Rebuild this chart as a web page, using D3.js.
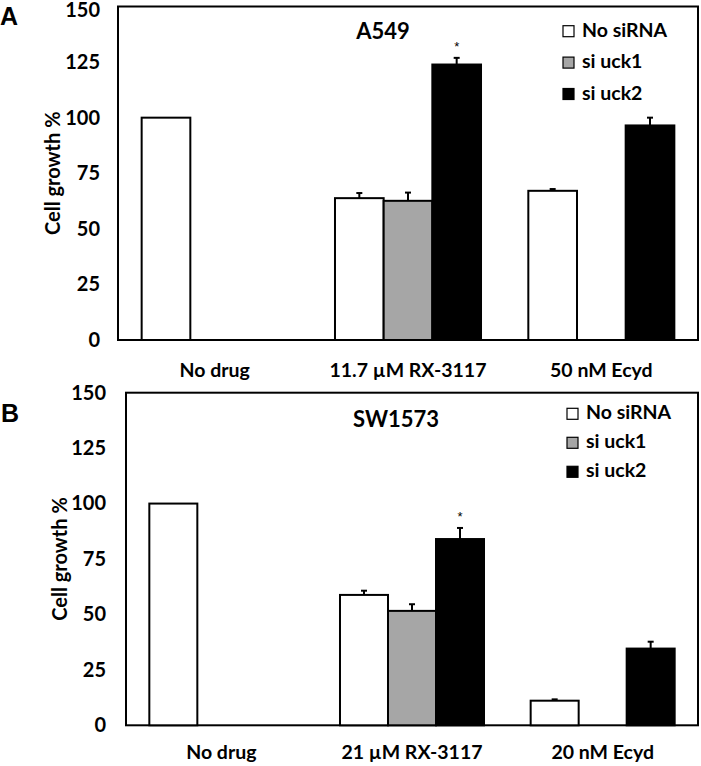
<!DOCTYPE html>
<html>
<head>
<meta charset="utf-8">
<script src="https://cdn.jsdelivr.net/npm/d3@7/dist/d3.min.js"></script>
<style>
  body { margin: 0; background: #fff; }
  svg { display: block; }
  text { font-family: Lato, "Open Sans", sans-serif; font-weight: bold; fill: #000; }
</style>
</head>
<body>
<svg id="chart" width="701" height="766"></svg>
<script>
// ---------- Data ----------
const seriesNames = ["No siRNA", "si uck1", "si uck2"];
const seriesColors = ["#ffffff", "#a6a6a6", "#000000"];
const yTicks = [0, 25, 50, 75, 100, 125, 150];

const categoriesA = ["No drug", "11.7 \u00b5M RX-3117", "50 nM Ecyd"];
const noSiRNA_A = [100, 63.8, 67.1];
const siUck1_A = [null, 62.6, null];
const siUck2_A = [null, 123.9, 96.5];
const noSiRNA_A_err = [0, 2.3, 0.8];
const siUck1_A_err = [null, 3.7, null];
const siUck2_A_err = [null, 3.0, 3.5];
const starsA = [[1, 2]];

const categoriesB = ["No drug", "21 \u00b5M RX-3117", "20 nM Ecyd"];
const noSiRNA_B = [100, 58.8, 11.1];
const siUck1_B = [null, 51.6, null];
const siUck2_B = [null, 84.0, 34.6];
const noSiRNA_B_err = [0, 1.9, 0.6];
const siUck1_B_err = [null, 3.0, null];
const siUck2_B_err = [null, 5.0, 3.1];
const starsB = [[1, 2]];

// ---------- Drawing ----------
const svg = d3.select("#chart");

function panel(cfg) {
  const g = svg.append("g");
  const x0 = d3.scaleBand().domain(cfg.categories).range([cfg.left, cfg.right]).paddingInner(0).paddingOuter(0);
  const x1 = d3.scaleBand().domain(d3.range(seriesNames.length)).range([0, x0.bandwidth()]).paddingInner(0).paddingOuter(0.486);
  const y = d3.scaleLinear().domain([0, 150]).range([cfg.bottom, cfg.top]);

  // frame
  g.append("rect")
    .attr("x", cfg.left).attr("y", cfg.top)
    .attr("width", cfg.right - cfg.left).attr("height", cfg.bottom - cfg.top)
    .attr("fill", "none").attr("stroke", "#000").attr("stroke-width", 2);

  // y axis (no tick marks)
  const yAxis = d3.axisLeft(y).tickValues(yTicks).tickSize(0).tickPadding(cfg.yPad);
  const ya = g.append("g").attr("transform", `translate(${cfg.left},0)`).call(yAxis);
  ya.select(".domain").remove();
  ya.selectAll("text").style("font-family", "Lato, sans-serif").style("font-weight", "bold")
    .style("font-size", "20px").style("fill", "#000")
    .attr("dy", d => (d === 150 && cfg.top < 10) ? "0.5em" : "0.32em");

  // x axis labels
  const xAxis = d3.axisBottom(x0).tickSize(0).tickPadding(cfg.xPad);
  const xa = g.append("g").attr("transform", `translate(0,${cfg.bottom})`).call(xAxis);
  xa.select(".domain").remove();
  xa.selectAll("text").style("font-family", "Lato, sans-serif").style("font-weight", "bold")
    .style("font-size", "19.5px").style("fill", "#000");

  // bars
  cfg.series.forEach((vals, si) => {
    vals.forEach((v, ci) => {
      if (v == null) return;
      const bx = x0(cfg.categories[ci]) + x1(si);
      g.append("rect")
        .attr("x", bx).attr("y", y(v))
        .attr("width", x1.bandwidth()).attr("height", y(0) - y(v))
        .attr("fill", seriesColors[si]).attr("stroke", "#000").attr("stroke-width", 2);
      const e = cfg.errors[si][ci];
      if (e) {
        const cx = bx + x1.bandwidth() / 2;
        g.append("line").attr("x1", cx).attr("x2", cx).attr("y1", y(v)).attr("y2", y(v + e))
          .attr("stroke", "#000").attr("stroke-width", 2);
        g.append("line").attr("x1", cx - 3).attr("x2", cx + 3).attr("y1", y(v + e)).attr("y2", y(v + e))
          .attr("stroke", "#000").attr("stroke-width", 2);
      }
    });
  });

  // significance stars
  cfg.stars.forEach(([ci, si]) => {
    const v = cfg.series[si][ci] + cfg.errors[si][ci];
    const cx = x0(cfg.categories[ci]) + x1(si) + x1.bandwidth() / 2;
    g.append("text").attr("x", cx).attr("y", y(v) - 7).attr("text-anchor", "middle")
      .style("font-weight", "normal").style("font-family", "'Liberation Sans', Arial, sans-serif")
      .style("font-size", "13px").style("fill", "#000").text("*");
  });

  // title
  g.append("text").attr("x", cfg.titleX).attr("y", cfg.titleY).attr("text-anchor", "middle")
    .style("font-size", "22px").text(cfg.title);

  // legend
  seriesNames.forEach((n, i) => {
    const ly = cfg.legendY + i * cfg.legendStep;
    g.append("rect").attr("x", cfg.legendX).attr("y", ly - 5).attr("width", 11).attr("height", 11)
      .attr("fill", seriesColors[i]).attr("stroke", "#000").attr("stroke-width", 1.2);
    g.append("text").attr("x", cfg.legendX + 19).attr("y", ly + 6).style("font-size", "19.5px").text(n);
  });

  // y title
  const my = (cfg.top + cfg.bottom) / 2;
  g.append("text").attr("transform", `translate(${cfg.yTitleX},${my}) rotate(-90)`)
    .attr("text-anchor", "middle").style("font-size", "20px").text("Cell growth %");

  // panel letter
  g.append("text").attr("x", cfg.letterX).attr("y", cfg.letterY)
    .style("font-family", "'Liberation Sans', Arial, sans-serif").style("font-size", "25px").text(cfg.letter);
}

panel({
  categories: categoriesA, left: 118, right: 698, top: 6.5, bottom: 340,
  series: [noSiRNA_A, siUck1_A, siUck2_A],
  errors: [noSiRNA_A_err, siUck1_A_err, siUck2_A_err],
  stars: starsA, title: "A549", titleX: 383, titleY: 39,
  legendX: 563, legendY: 30.7, legendStep: 31.4,
  yPad: 18, xPad: 23,
  yTitleX: 60, letter: "A", letterX: 0, letterY: 25
});

panel({
  categories: categoriesB, left: 126, right: 698, top: 392.7, bottom: 725.3,
  series: [noSiRNA_B, siUck1_B, siUck2_B],
  errors: [noSiRNA_B_err, siUck1_B_err, siUck2_B_err],
  stars: starsB, title: "SW1573", titleX: 396, titleY: 427,
  legendX: 567, legendY: 413.3, legendStep: 29,
  yPad: 20, xPad: 20,
  yTitleX: 66.5, letter: "B", letterX: 1, letterY: 422
});
</script>
</body>
</html>
